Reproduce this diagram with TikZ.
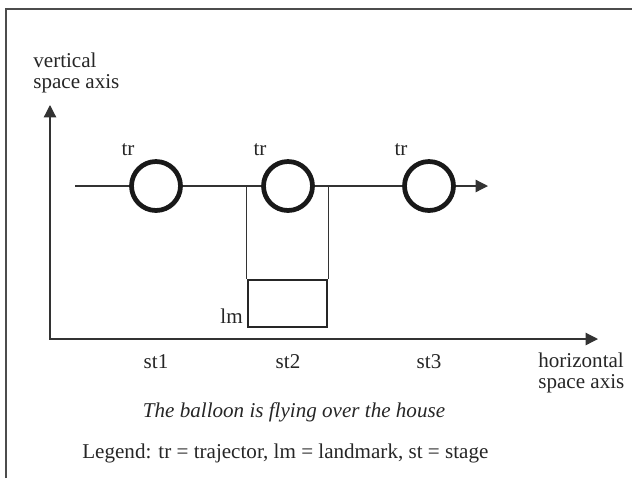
\documentclass[tikz,border=0pt]{standalone}
\usepackage{fontspec}
\setmainfont{Liberation Serif}
\usetikzlibrary{arrows.meta,positioning}

\tikzset{
  lbl/.style={inner sep=0pt, anchor=base, text=black!85,
    font=\fontsize{12}{11.4}\selectfont},
  caption/.style={lbl, font=\fontsize{12}{11.4}\selectfont\itshape},
  thinline/.style={line width=0.7pt, draw=black!80},
  balloon/.style={circle, draw=black!90, line width=2.7pt, fill=white,
    minimum size=0.98cm, inner sep=0pt},
  house/.style={rectangle, draw=black!85, line width=1.3pt,
    minimum width=1.58cm, minimum height=0.94cm, inner sep=0pt},
  >={Triangle[length=7pt, width=7pt]}
}

\begin{document}
\begin{tikzpicture}[x=0.02cm, y=-0.02cm]

  \useasboundingbox (0,0) rectangle (632,478);

  % ---- frame, cut off at the right and at the bottom ----
  \draw[line width=1.1pt, black!70] (6,478) -- (6,9) -- (632,9);

  % ---- space axes ----
  \coordinate (vtip) at (50,105);
  \coordinate (htip) at (598,339);
  \draw[thinline, <->] (vtip) |- (htip);

  % base of a two-line node sits on its last line
  \node[lbl, anchor=base west, align=left] (vlabel) at (33,88)
    {vertical\\space axis};
  \node[lbl, anchor=base west, align=left] (hlabel) at (538,388)
    {horizontal\\space axis};

  % ---- path of the trajector ----
  \coordinate (pstart) at (75,186);
  \coordinate (pend) at (488,186);
  \draw[thinline, ->] (pstart) -- (pend);

  % ---- landmark, below the second stage ----
  \node[house] (lm) at (287.5,303.5) {};
  \node[lbl, anchor=base east] (lmlabel) at (243,323) {lm};
  \draw[thinline] (lm.north west) -- (lm.north west |- pstart);
  \draw[thinline] (lm.north east) -- (lm.north east |- pstart);

  % ---- trajector at the three stages ----
  \foreach \x/\n in {156/1, 288/2, 429/3} {
    \node[balloon] (tr\n) at (\x,186) {};
    \node[lbl] (trlabel\n) at (\x-28,155) {tr};
    \node[lbl] (st\n) at (\x,368) {st\n};
  }

  % ---- caption and legend ----
  \node[caption] (cap) at (294,417) {The balloon is flying over the house};
  \node[lbl, anchor=base west] (legend) at (82,458)
    {Legend: tr = trajector, lm = landmark, st = stage};

\end{tikzpicture}
\end{document}
